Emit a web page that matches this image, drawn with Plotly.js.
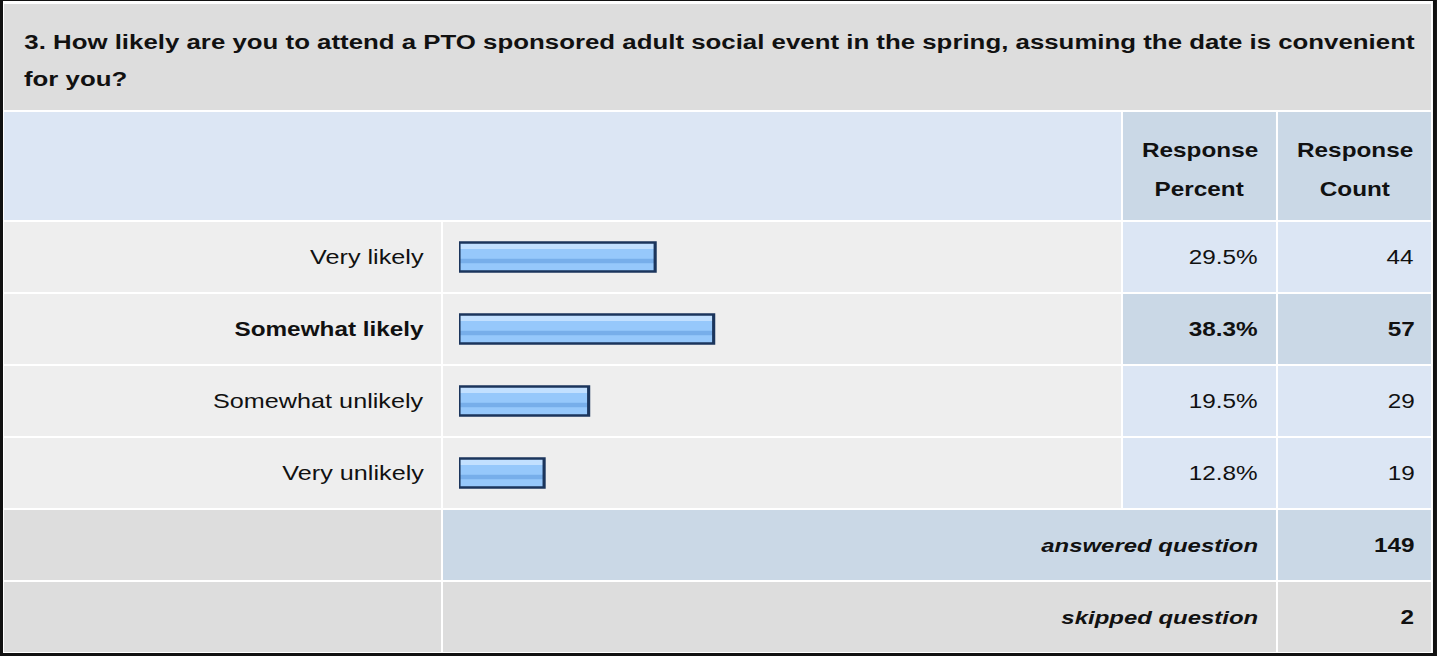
<!DOCTYPE html>
<html>
<head>
<meta charset="utf-8">
<script src="https://cdn.plot.ly/plotly-3.0.1.min.js"></script>
<style>
html,body{margin:0;padding:0;background:#fff;overflow:hidden;}
#chart{width:1140px;height:656px;transform:scaleX(1.2605);transform-origin:0 0;}
</style>
</head>
<body>
<div id="chart"></div>
<script>
// ---- data ----
var questionLines = ["3. How likely are you to attend a PTO sponsored adult social event in the spring, assuming the date is convenient", "for you?"];
var categories = ["Very likely", "Somewhat likely", "Somewhat unlikely", "Very unlikely"];
var percents = [29.5, 38.3, 19.5, 12.8];
var counts = [44, 57, 29, 19];
var headerPercent = ["Response", "Percent"];
var headerCount = ["Response", "Count"];
var answeredLabel = "answered question";
var answeredCount = 149;
var skippedLabel = "skipped question";
var skippedCount = 2;

// ---- layout geometry (target pixels; the plot is drawn narrower and stretched horizontally) ----
var W = 1437, H = 656;
var PW = 1140; // drawn width before horizontal stretch
function px(x) { return x / W; }
function py(y) { return 1 - y / H; }
var FONT = "Liberation Sans, Arial, Helvetica, sans-serif";
var maxIdx = percents.indexOf(Math.max.apply(null, percents));

var shapes = [];
function rect(x0, y0, x1, y1, color) {
  shapes.push({type: 'rect', xref: 'paper', yref: 'paper', x0: px(x0), x1: px(x1), y0: py(y1), y1: py(y0),
    fillcolor: color, line: {width: 0}, layer: 'below'});
}
// frame
rect(0, 0, W, H, '#111111');
rect(3, 1, 1433, 653, '#ffffff');
// title
rect(4, 4, 1431, 110, '#DDDDDD');
// header
rect(4, 112, 1121, 220, '#DCE6F4');
rect(1123, 112, 1276, 220, '#CAD8E6');
rect(1278, 112, 1431, 220, '#CAD8E6');
// data rows
for (var i = 0; i < categories.length; i++) {
  var y0 = 222 + 72 * i, y1 = y0 + 70;
  var hi = (i === maxIdx);
  rect(4, y0, 441, y1, '#EEEEEE');
  rect(443, y0, 1121, y1, '#EEEEEE');
  rect(1123, y0, 1276, y1, hi ? '#CAD8E6' : '#DCE6F4');
  rect(1278, y0, 1431, y1, hi ? '#CAD8E6' : '#DCE6F4');
}
// answered row
rect(4, 510, 441, 580, '#DDDDDD');
rect(443, 510, 1276, 580, '#CAD8E6');
rect(1278, 510, 1431, 580, '#CAD8E6');
// skipped row
rect(4, 582, 441, 652, '#DDDDDD');
rect(443, 582, 1276, 652, '#DDDDDD');
rect(1278, 582, 1431, 652, '#DDDDDD');

var annotations = [];
function txt(text, x, y, anchor, size, yref) {
  annotations.push({text: text, xref: 'paper', yref: yref || 'paper', x: px(x),
    y: yref ? y : py(y), xanchor: anchor, yanchor: 'middle', showarrow: false,
    font: {family: FONT, size: size, color: '#111111'}});
}
// title
txt('<b>' + questionLines[0] + '</b>', 22, 41, 'left', 20.5);
txt('<b>' + questionLines[1] + '</b>', 22, 79, 'left', 20.5);
// headers
txt('<b>' + headerPercent[0] + '</b>', 1200, 150, 'center', 19.3);
txt('<b>' + headerPercent[1] + '</b>', 1200, 189, 'center', 19.3);
txt('<b>' + headerCount[0] + '</b>', 1355, 150, 'center', 19.3);
txt('<b>' + headerCount[1] + '</b>', 1355, 189, 'center', 19.3);
// rows
for (var j = 0; j < categories.length; j++) {
  var b = (j === maxIdx);
  var w = function (s) { return b ? '<b>' + s + '</b>' : s; };
  txt(w(categories[j]), 426, categories[j], 'right', b ? 19.3 : 20, 'y');
  txt(w(percents[j].toFixed(1) + '%'), 1261, categories[j], 'right', 19.3, 'y');
  txt(w(String(counts[j])), 1417, categories[j], 'right', 19.3, 'y');
}
txt('<b><i>' + answeredLabel + '</i></b>', 1261, 545, 'right', 19);
txt('<b>' + answeredCount + '</b>', 1417, 545, 'right', 19.3);
txt('<b><i>' + skippedLabel + '</i></b>', 1261, 617, 'right', 19);
txt('<b>' + skippedCount + '</b>', 1417, 617, 'right', 19.3);

var BW = 0.40;
var traces = [
  {type: 'bar', orientation: 'h', x: percents, y: categories, width: BW, offset: -BW / 2,
   marker: {color: '#96C8FB', line: {width: 0}}, hoverinfo: 'skip'},
  {type: 'bar', orientation: 'h', x: percents, y: categories, width: BW * 0.22, offset: -BW / 2,
   marker: {color: '#C2E0FF', line: {width: 0}}, hoverinfo: 'skip'},
  {type: 'bar', orientation: 'h', x: percents, y: categories, width: BW * 0.16, offset: BW * 0.06,
   marker: {color: '#77AEEA', line: {width: 0}}, hoverinfo: 'skip'},
  {type: 'bar', orientation: 'h', x: percents, y: categories, width: BW, offset: -BW / 2,
   marker: {color: 'rgba(0,0,0,0)', line: {width: 2.5, color: '#1B355C'}}, hoverinfo: 'skip'}
];

var layout = {
  width: PW, height: H,
  margin: {l: 0, r: 0, t: 0, b: 0},
  paper_bgcolor: '#ffffff', plot_bgcolor: 'rgba(0,0,0,0)',
  showlegend: false, barmode: 'overlay',
  xaxis: {domain: [px(459), px(1124)], range: [0, 100], visible: false, fixedrange: true},
  yaxis: {domain: [py(509), py(221)], type: 'category', categoryarray: categories,
          range: [categories.length - 0.5, -0.5], visible: false, fixedrange: true},
  shapes: shapes, annotations: annotations
};
Plotly.newPlot('chart', traces, layout, {displayModeBar: false, staticPlot: true});
</script>
</body>
</html>
